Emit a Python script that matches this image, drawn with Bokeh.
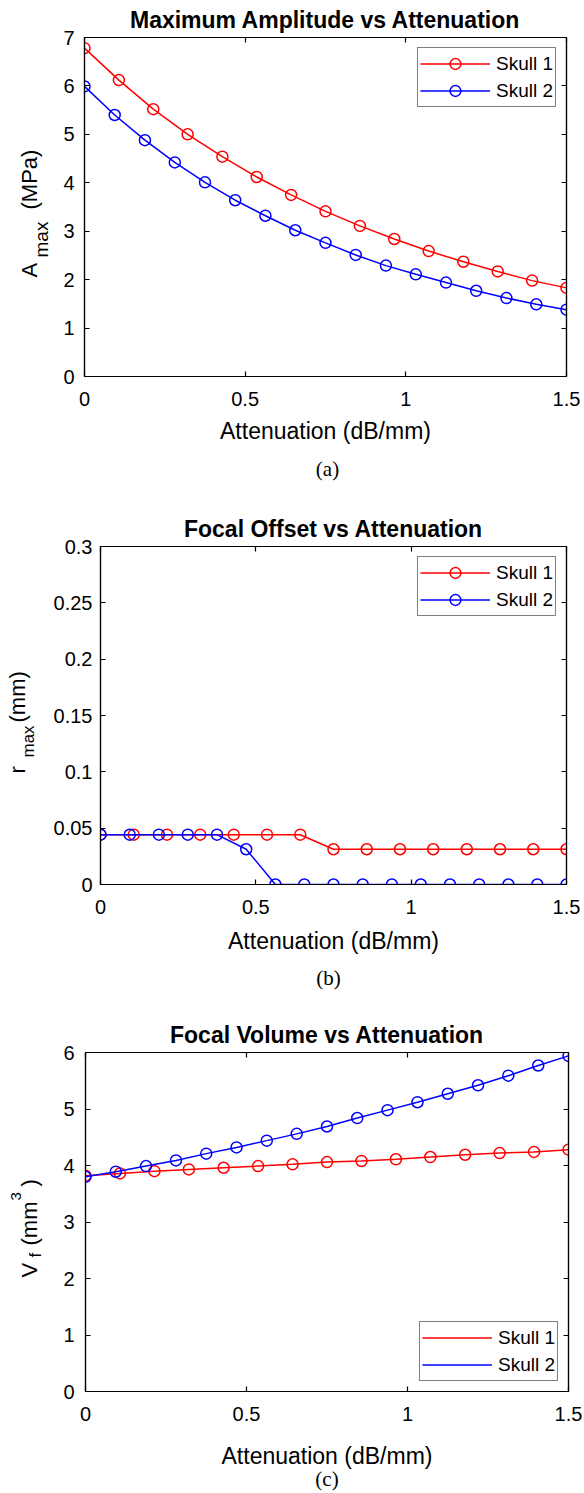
from math import pi

from bokeh.core.properties import value
from bokeh.embed import file_html
from bokeh.models import FixedTicker, Legend, LegendItem, LinearAxis, Range1d, Title
from bokeh.plotting import figure
from bokeh.resources import INLINE

# ---- data -------------------------------------------------------------
# attenuation sample points (dB/mm) used for each skull model
atten_skull1 = [0.0, 0.107, 0.214, 0.321, 0.429, 0.536, 0.643, 0.750,
                0.857, 0.964, 1.071, 1.179, 1.286, 1.393, 1.500]
atten_skull2 = [0.0, 0.094, 0.188, 0.281, 0.375, 0.469, 0.563, 0.656, 0.750,
                0.844, 0.938, 1.031, 1.125, 1.219, 1.313, 1.406, 1.500]

# maximum pressure amplitude (MPa)
amax_skull1 = [6.78, 6.12, 5.52, 5.00, 4.54, 4.12, 3.75, 3.41, 3.11, 2.84,
               2.59, 2.37, 2.17, 1.98, 1.83]
amax_skull2 = [5.99, 5.40, 4.88, 4.42, 4.01, 3.64, 3.32, 3.02, 2.76, 2.51,
               2.29, 2.11, 1.94, 1.77, 1.62, 1.49, 1.38]

# focal offset (mm)
rmax_skull1 = [0.0442, 0.0442, 0.0442, 0.0442, 0.0442, 0.0442, 0.0442,
               0.0313, 0.0313, 0.0313, 0.0313, 0.0313, 0.0313, 0.0313, 0.0313]
rmax_skull2 = [0.0442, 0.0442, 0.0442, 0.0442, 0.0442, 0.0313, 0.0, 0.0,
               0.0, 0.0, 0.0, 0.0, 0.0, 0.0, 0.0, 0.0, 0.0]

# focal volume (mm^3)
vf_skull1 = [3.82, 3.86, 3.90, 3.93, 3.96, 3.99, 4.02, 4.06, 4.08, 4.11,
             4.15, 4.19, 4.22, 4.24, 4.28]
vf_skull2 = [3.80, 3.89, 3.99, 4.09, 4.21, 4.32, 4.44, 4.56, 4.69, 4.84,
             4.98, 5.12, 5.27, 5.42, 5.59, 5.77, 5.94]

series_names = ["Skull 1", "Skull 2"]

x_ticks = [0, 0.5, 1, 1.5]
x_tick_labels = ["0", "0.5", "1", "1.5"]
a_ticks = [0, 1, 2, 3, 4, 5, 6, 7]
a_tick_labels = ["0", "1", "2", "3", "4", "5", "6", "7"]
r_ticks = [0, 0.05, 0.1, 0.15, 0.2, 0.25, 0.3]
r_tick_labels = ["0", "0.05", "0.1", "0.15", "0.2", "0.25", "0.3"]
v_ticks = [0, 1, 2, 3, 4, 5, 6]
v_tick_labels = ["0", "1", "2", "3", "4", "5", "6"]

# ---- styling ----------------------------------------------------------
SANS = "Liberation Sans"
SERIF = "Liberation Serif"
INK = "#000000"
RED = "#ff0000"
BLUE = "#0000ff"
X_MID = 0.75


def style_axis(ax, ticks, labels, show_labels=True, standoff=10):
    ax.ticker = FixedTicker(ticks=ticks)
    ax.major_tick_in = 5
    ax.major_tick_out = 0
    ax.minor_tick_in = 0
    ax.minor_tick_out = 0
    ax.axis_line_color = INK
    ax.axis_line_width = 1.2
    ax.major_tick_line_color = INK
    ax.major_tick_line_width = 1.2
    if show_labels:
        ax.major_label_overrides = {t: s for t, s in zip(ticks, labels)}
        ax.major_label_text_font = SANS
        ax.major_label_text_font_size = "20px"
        ax.major_label_text_color = INK
        ax.major_label_standoff = standoff
    else:
        ax.major_label_text_font_size = "0px"
        ax.major_label_text_color = None
        ax.major_label_standoff = 0


def make_panel(height, borders, y_end, yticks, ylabels, title,
               xlab_standoff, ytick_standoff):
    left, right, top, bottom = borders
    p = figure(width=584, height=height, output_backend="svg",
               toolbar_location=None, x_range=Range1d(0, 1.5),
               y_range=Range1d(0, y_end), min_border_left=left,
               min_border_right=right, min_border_top=top,
               min_border_bottom=bottom)
    p.grid.visible = False
    p.outline_line_color = INK
    p.outline_line_width = 1.2
    p.background_fill_color = "white"
    p.border_fill_color = "white"

    p.title = Title(text=title, align="center", text_font=SANS,
                    text_font_size="23px", text_font_style="bold",
                    text_color=INK, standoff=9)

    style_axis(p.xaxis[0], x_ticks, x_tick_labels, standoff=15)
    p.xaxis[0].axis_label = "Attenuation (dB/mm)"
    p.xaxis[0].axis_label_text_font = SANS
    p.xaxis[0].axis_label_text_font_size = "23px"
    p.xaxis[0].axis_label_text_font_style = "normal"
    p.xaxis[0].axis_label_text_color = INK
    p.xaxis[0].axis_label_standoff = xlab_standoff
    style_axis(p.yaxis[0], yticks, ylabels, standoff=ytick_standoff)

    # tick marks on the top and right edges of the box
    top_ax = LinearAxis()
    style_axis(top_ax, x_ticks, x_tick_labels, show_labels=False)
    p.add_layout(top_ax, "above")
    right_ax = LinearAxis()
    style_axis(right_ax, yticks, ylabels, show_labels=False)
    p.add_layout(right_ax, "right")
    return p


def add_ylabel(p, pieces):
    # y-axis label built from pieces so sub/superscripts can be placed;
    # each piece: (text, x_offset, rise, font_size) measured from the
    # frame's bottom-left corner, text reading bottom to top
    for text, dx, rise, size in pieces:
        p.text(x=[0], y=[0], text=[text], x_offset=dx, y_offset=-rise,
               angle=pi / 2, text_align="left", text_baseline="alphabetic",
               text_font=value(SANS), text_font_size=size, text_color=INK,
               level="overlay")


def add_caption(p, text, dx, drop):
    # sub-figure letter centred under the x-axis label
    p.text(x=[X_MID], y=[0], text=[text], x_offset=dx, y_offset=drop,
           text_align="center", text_baseline="alphabetic",
           text_font=value(SERIF), text_font_size="21px", text_color=INK,
           level="overlay")


def add_series(p, xs, ys, markers=True):
    items = []
    for x, y, color, name in zip(xs, ys, [RED, BLUE], series_names):
        r_line = p.line(x, y, line_color=color, line_width=1.5)
        rs = [r_line]
        if markers:
            r_pts = p.scatter(x, y, marker="circle", size=11,
                              fill_color=None, line_color=color,
                              line_width=1.5)
            rs.append(r_pts)
        items.append(LegendItem(label=name, renderers=rs))
    return items


def add_legend(p, items, location):
    leg = Legend(items=items, location=location, margin=10, padding=2,
                 spacing=0, glyph_width=70, glyph_height=27, label_height=27,
                 label_standoff=6, border_line_color=INK,
                 border_line_width=1.2, background_fill_color="white",
                 background_fill_alpha=1.0, label_text_font=SANS,
                 label_text_font_size="19px", label_text_color=INK)
    p.add_layout(leg)


# ---- (a) maximum amplitude -------------------------------------------
pa = make_panel(488, (84, 18, 37, 112), 7, a_ticks, a_tick_labels,
                "Maximum Amplitude vs Attenuation", 9, 10)
items_a = add_series(pa, [atten_skull1, atten_skull2], [amax_skull1, amax_skull2])
add_legend(pa, items_a, "top_right")
add_ylabel(pa, [("A", -55, 99, "22px"), ("max", -43, 119, "19px"),
                ("(MPa)", -55, 167, "22px")])
add_caption(pa, "(a)", 2, 92)

# ---- (b) focal offset -------------------------------------------------
pb = make_panel(512, (100, 18, 58, 116), 0.3, r_ticks, r_tick_labels,
                "Focal Offset vs Attenuation", 11, 8)
items_b = add_series(pb, [atten_skull1, atten_skull2], [rmax_skull1, rmax_skull2])
add_legend(pb, items_b, "top_right")
add_ylabel(pb, [("r", -83, 111, "22px"), ("max", -72, 127, "17px"),
                ("(mm)", -83, 162, "22px")])
add_caption(pb, "(b)", -5, 93)

# ---- (c) focal volume -------------------------------------------------
pc = make_panel(493, (85, 16, 52, 102), 6, v_ticks, v_tick_labels,
                "Focal Volume vs Attenuation", 19, 11)
add_series(pc, [atten_skull1, atten_skull2], [vf_skull1, vf_skull2])
# legend for this panel shows line samples only
leg_lines = [r for r in pc.renderers if r.glyph.__class__.__name__ == "Line"]
items_c = [LegendItem(label=n, renderers=[r]) for n, r in zip(series_names, leg_lines)]
add_legend(pc, items_c, "bottom_right")
add_ylabel(pc, [("V", -56, 114, "22px"), ("f", -50, 134, "17px"),
                ("(mm", -56, 146, "22px"), ("3", -70, 191, "15px"),
                (")", -56, 205, "22px")])
add_caption(pc, "(c)", 0, 87)

open("out.html", "w").write(file_html([pa, pb, pc], INLINE))
